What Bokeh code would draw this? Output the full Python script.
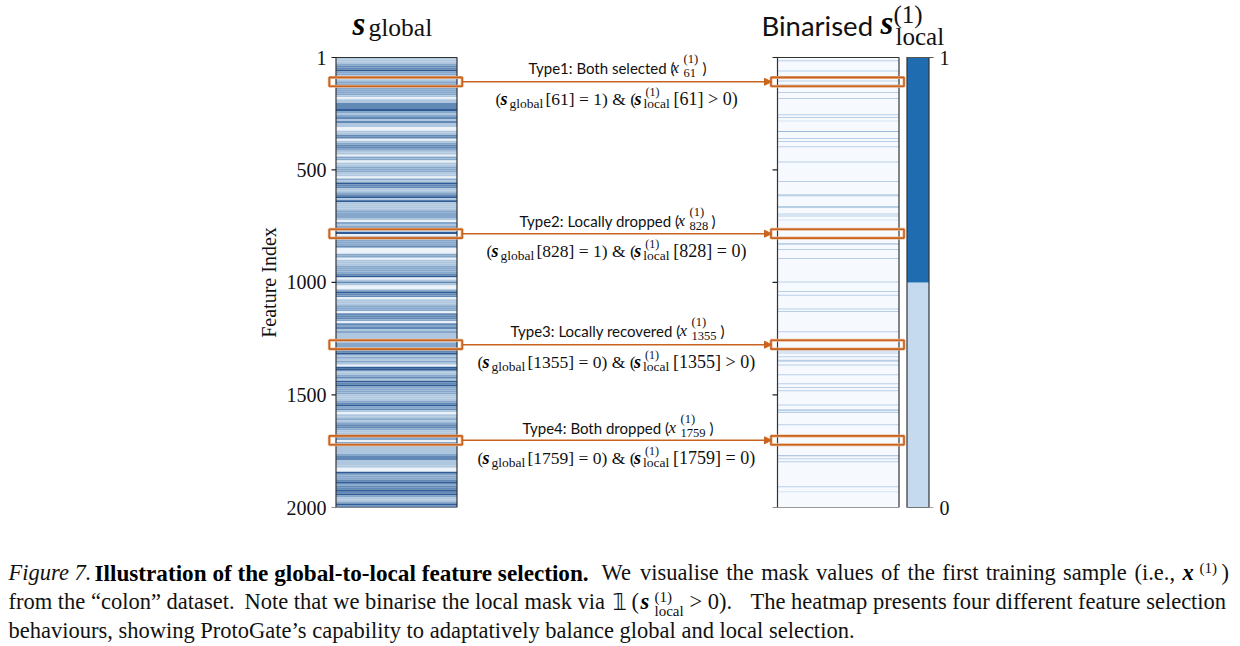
from bokeh.plotting import figure
from bokeh.layouts import column, row
from bokeh.core.properties import value
from bokeh.models import Range1d, LinearAxis, FixedTicker, NumeralTickFormatter, Arrow, NormalHead
from bokeh.embed import file_html
from bokeh.resources import INLINE
import numpy as np

# ---- data ----
# s_global shade (0 white .. 4 dark), equal-height rows from feature 1 down to 2000
global_a = [1,1,1,2,3,3,4,2,2,1,1,1,2,2,1,2,2,2,2,1,0,1,1,3,3,3,4,2,1,2,3,1,3,1,1,0,0,1,1,3,3,0,1,2,3,3,2,1,1,0,2,2,0,1,1,2,2]
global_b = [2,1,1,0,2,1,4,3,3,1,1,2,3,4,1,4,1,1,1,1,2,2,2,2,1,0,2,1,2,2,1,4,0,1,1,2,2,2,3,0,0,0,2,2,0,1,1,1,2,2,2,2,3,4,0,1,3]
global_c = [1,0,0,2,4,3,3,0,1,1,1,2,2,2,0,3,3,3,2,0,3,2,3,1,2,1,1,1,1,1,2,2,1,2,3,4,1,2,1,2,1,0,4,4,1,1,2,3,1,4,3,4,2,2,2,2,1]
global_d = [1,1,2,3,4,2,3,1,0,1,1,2,1,2,3,3,2,1,1,2,2,2,0,2,2,1,1,1,1,2,3,3,1,1,1,1,0,0,4,2,2,2,3,4,2,3,3,4,3,4,2,1,1,2,4,3]
shade_colors = ["#eaf1f8", "#aec7df", "#86a7cc", "#6289b5", "#2f5c96"]

local_rows = [15,61,105,123,157,183,255,268,361,374,397,465,552,696,705,854,894,998,1040,1057,1118,1129,1219,1305,1314,1330,1367,1410,1450,1467,1481,1545,1578,1632,1783,1797,1908]
local_faint = [283,723,1930]
local_dark = [330,1770]
local_thick = [613,665,829,1348,1568]
mask_low = [0, 0.5]
mask_high = [0.5, 1]
mask_colors = ["#c6daef", "#1f6cb0"]
feature_ticks = [1, 500, 1000, 1500, 2000]
mask_ticks = [0, 1]
type_labels = ["Type1: Both selected (", "Type2: Locally dropped (", "Type3: Locally recovered (", "Type4: Both dropped ("]
type_ids = ["61", "828", "1355", "1759"]
global_vals = ["1", "1", "0", "0"]
local_ops = [">", "=", ">", "="]

ORANGE = "#c8641f"
SERIF = "Liberation Serif"
SANS = "Lato"


def panel(w, h, x0, x1, y0, y1):
    f = figure(width=w, height=h, output_backend="svg", toolbar_location=None,
               x_range=Range1d(x0, x1), y_range=Range1d(y1, y0),
               x_axis_location=None, y_axis_location=None,
               min_border_left=0, min_border_right=0, min_border_top=0, min_border_bottom=0,
               outline_line_color=None, frame_align=False)
    f.grid.visible = False
    return f


foot = panel(1240, 127, 0, 1240, 519, 646)
side = panel(280, 519, 0, 280, 0, 519)

# the frame runs up to the page top, so the headings sit in it above the heatmaps
HEAD_ROOM = 57 / 450
p = figure(width=960, height=519, output_backend="svg", toolbar_location=None,
           x_range=Range1d(326, 950), y_range=Range1d(507, 0),
           x_axis_location=None, y_axis_location=None,
           min_border_left=46, min_border_right=290, min_border_top=0, min_border_bottom=12,
           outline_line_color=None, frame_align=False)
p.grid.visible = False
p.extra_y_ranges = {"feature": Range1d(2000, 1 - HEAD_ROOM * 1999), "mask": Range1d(0, 1 + HEAD_ROOM)}

left = LinearAxis(y_range_name="feature", ticker=FixedTicker(ticks=feature_ticks),
                  formatter=NumeralTickFormatter(format="0"),
                  axis_line_color=None, major_tick_line_color=None, minor_tick_line_color=None,
                  major_tick_out=0, major_tick_in=0, minor_tick_out=0, minor_tick_in=0,
                  major_label_standoff=0,
                  major_label_text_font=SERIF, major_label_text_font_size="20px",
                  major_label_text_color="#111111")
p.add_layout(left, "left")
right = LinearAxis(y_range_name="mask", ticker=FixedTicker(ticks=mask_ticks),
                   formatter=NumeralTickFormatter(format="0"),
                   axis_line_color=None, major_tick_line_color=None, minor_tick_line_color=None,
                   major_tick_out=0, major_tick_in=0, minor_tick_out=0, minor_tick_in=0,
                   major_label_standoff=-11,
                   major_label_text_font=SERIF, major_label_text_font_size="20px",
                   major_label_text_color="#111111")
p.add_layout(right, "right")

side.text(x=[268.5], y=[282], text=["Feature Index"], angle=[np.pi / 2], text_font=value(SERIF),
          text_font_size=value("20px"), text_color="#111111", text_align="center", text_baseline="middle")

# s_global heatmap
shades = global_a + global_b + global_c + global_d
edges = np.linspace(1, 2000, len(shades) + 1)
p.quad(left=335.5, right=456.5, top=edges[:-1], bottom=edges[1:], y_range_name="feature",
       fill_color=[shade_colors[s] for s in shades], line_color=None)
p.quad(left=[335.5], right=[456.5], top=[1], bottom=[2000], y_range_name="feature",
       fill_color=None, line_color="#333333", line_width=1.2)

# local mask heatmap
p.quad(left=[777], right=[898.5], top=[1], bottom=[2000], y_range_name="feature",
       fill_color="#f6faff", line_color=None)
for rows, half, col in [(local_rows, 2.2, "#b8cfe5"), (local_faint, 2.5, "#d5e3f0"),
                        (local_dark, 2.2, "#9db8d6"), (local_thick, 4.0, "#b8cfe5")]:
    r = np.array(rows, dtype=float)
    p.quad(left=777, right=898.5, top=r - half, bottom=r + half, y_range_name="feature",
           fill_color=col, line_color=None)
p.quad(left=[777], right=[898.5], top=[1], bottom=[2000], y_range_name="feature",
       fill_color=None, line_color="#333333", line_width=1.2)

# binary strip
p.quad(left=906.5, right=928.5, bottom=mask_low, top=mask_high, y_range_name="mask",
       fill_color=mask_colors, line_color=None)
p.quad(left=[906.5], right=[928.5], bottom=[0], top=[1], y_range_name="mask",
       fill_color=None, line_color="#333333", line_width=1.2)

# tick marks
ft = np.array(feature_ticks, dtype=float)
p.segment(x0=331, x1=335.5, y0=ft, y1=ft, y_range_name="feature", line_color="#222222", line_width=1.2)
p.segment(x0=772, x1=777, y0=ft, y1=ft, y_range_name="feature", line_color="#222222", line_width=1.2)
mt = np.array(mask_ticks, dtype=float)
p.segment(x0=906, x1=933, y0=mt, y1=mt, y_range_name="mask", line_color="#555555", line_width=1.2)


def txt(x, y, s, size, font=SERIF, style="normal", color="#111111", fig=None):
    # the renderer sets alphabetic text about 0.38 em below its anchor
    (fig or p).text(x=[x], y=[y - 0.38 * size], text=[s], text_font=value(font),
                    text_font_size=value(f"{size}px"),
                    text_font_style=style, text_color=color, text_baseline="alphabetic",
                    text_align="left")


# headings
txt(352, 36, "s", 33, style="bold italic", color="#000000")
txt(368, 37, "global", 25.5)
txt(761, 35, "Binarised", 27.5, font=SANS)
txt(880, 35, "s", 33, style="bold italic", color="#000000")
txt(893, 23, "(1)", 25)
txt(895, 45, "local", 25)

# four behaviours
arrow_y = [81.3, 233.2, 344.2, 439.8]
type_x = [528, 519, 510, 522]
type_base = [73, 226, 336, 433]
type_end = [671, 677, 679, 668]
type_close = [702, 711, 720, 709]
form_x = [495, 486, 477, 477]
form_base = [105, 257, 368, 464]
for i in range(4):
    y = arrow_y[i]
    p.add_layout(Arrow(end=NormalHead(size=7, fill_color=ORANGE, line_color=ORANGE, line_width=1),
                       x_start=462, y_start=y, x_end=771, y_end=y, line_color=ORANGE, line_width=1.6))
    for x0, x1 in [(328.8, 461.7), (770.5, 903.5)]:
        p.quad(left=[x0], right=[x1], top=[y - 4.4], bottom=[y + 4.4], fill_color=None,
               line_color="#e9b48e", line_width=3)
        p.quad(left=[x0], right=[x1], top=[y - 4.4], bottom=[y + 4.4], fill_color=None,
               line_color=ORANGE, line_width=1.6)
    n = len(type_ids[i])
    b = type_base[i]
    txt(type_x[i], b, type_labels[i], 15, font=SANS)
    e = type_end[i]
    txt(e, b, "x", 17, style="italic")
    txt(e + 12, b - 10, "(1)", 12.5)
    txt(e + 12, b + 4, type_ids[i], 12.5)
    txt(type_close[i], b, ")", 15, font=SANS)
    x0 = form_x[i]
    w = 8.75 * (n - 2)
    fb = form_base[i]
    txt(x0, fb, "(", 17)
    txt(x0 + 5, fb, "s", 18, style="bold italic", color="#000000")
    txt(x0 + 14, fb + 3, "global", 13.5)
    txt(x0 + 50, fb, f"[{type_ids[i]}] = {global_vals[i]}) & (", 17.5)
    txt(x0 + 139 + w, fb, "s", 18, style="bold italic", color="#000000")
    txt(x0 + 150 + w, fb - 9, "(1)", 12)
    txt(x0 + 148 + w, fb + 3, "local", 13.5)
    txt(x0 + 178 + w, fb, f"[{type_ids[i]}] {local_ops[i]} 0)", 18)

# caption
CAP = 22.5
txt(8, 581, "Figure 7.", CAP, style="italic", fig=foot)
txt(94, 581, "Illustration of the global-to-local feature selection.", 23.2, style="bold", color="#000000", fig=foot)
for x, w in zip([601, 639.4, 725.8, 760.7, 815.6, 880.5, 906.9, 941.8, 985.2, 1062.6, 1134],
                ["We", "visualise", "the", "mask", "values", "of", "the", "first", "training", "sample", "(i.e.,"]):
    txt(x, 581, w, CAP, fig=foot)
txt(1182, 581, "x", CAP, style="bold italic", color="#000000", fig=foot)
txt(1199, 573, "(1)", 15, fig=foot)
txt(1221, 581, ")", CAP, fig=foot)
txt(8, 610, "from the “colon” dataset.", CAP, fig=foot)
txt(244, 610, "Note that we binarise the local mask via", CAP, fig=foot)
txt(612, 610, "𝟙", CAP, font="DejaVu Sans", fig=foot)
txt(631, 610, "(", CAP, fig=foot)
txt(640, 610, "s", CAP, style="bold italic", color="#000000", fig=foot)
txt(654, 602, "(1)", 15, fig=foot)
txt(654, 616, "local", 15, fig=foot)
txt(689, 610, "> 0).", CAP, fig=foot)
txt(750, 610, "The heatmap presents four different feature selection", CAP, fig=foot)
txt(8, 639, "behaviours, showing ProtoGate’s capability to adaptatively balance global and local selection.", CAP, fig=foot)

page = column(row(side, p, spacing=0), foot, spacing=0)
open("out.html", "w").write(file_html(page, INLINE))
